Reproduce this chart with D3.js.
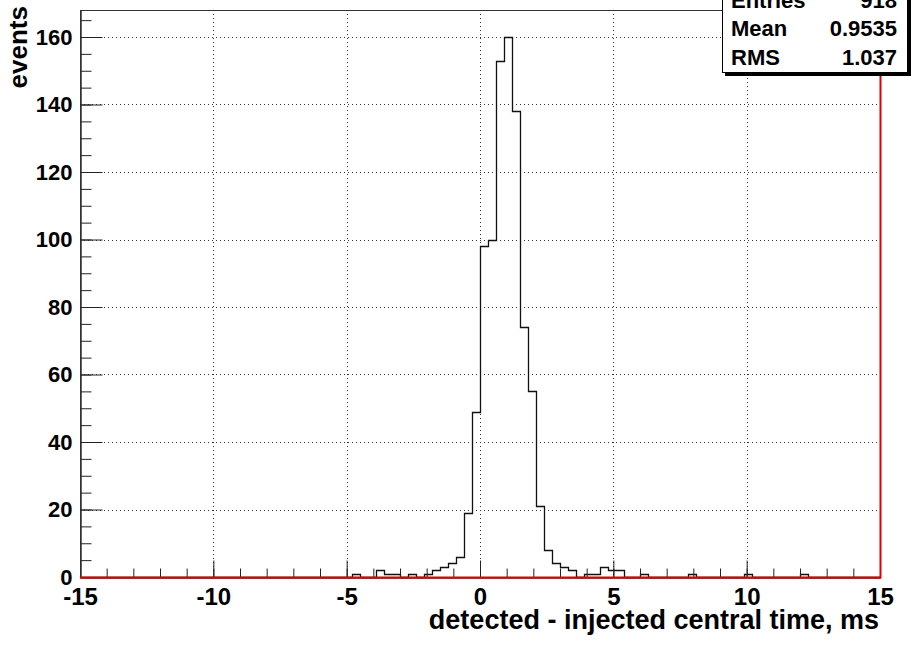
<!DOCTYPE html>
<html>
<head>
<meta charset="utf-8">
<script src="https://cdn.jsdelivr.net/npm/d3@7"></script>
<style>
  body { margin: 0; background: #fff; }
  svg { display: block; font-family: "Liberation Sans", Arial, sans-serif; font-weight: bold; }
</style>
</head>
<body>
<div id="chart"></div>
<script>
// histogram: 100 bins of 0.3 ms from -15 to 15
const binLow = -15;
const binWidth = 0.3;
const counts = [
  0, 0, 0, 0, 0, 0, 0, 0, 0, 0,
  0, 0, 0, 0, 0, 0, 0, 0, 0, 0,
  0, 0, 0, 0, 0, 0, 0, 0, 0, 0,
  0, 0, 0, 0, 1, 0, 0, 2, 1, 1,
  0, 1, 0, 1, 2, 3, 4, 6, 19, 49,
  98, 100, 153, 160, 138, 74, 55, 21, 8, 4,
  3, 2, 0, 1, 1, 3, 2, 2, 0, 0,
  1, 0, 0, 0, 0, 0, 1, 0, 0, 0,
  0, 0, 0, 1, 0, 0, 0, 0, 0, 0,
  1, 0, 0, 0, 0, 0, 0, 0, 0, 0
];
const xTicks = [-15, -10, -5, 0, 5, 10, 15];
const yTicks = [0, 20, 40, 60, 80, 100, 120, 140, 160];
const statNames = ["Entries", "Mean", "RMS"];
const statValues = ["918", "0.9535", "1.037"];

const width = 913, height = 645;
const fLeft = 80, fRight = 880, fTop = 10, fBottom = 577;

const svg = d3.select("#chart").append("svg")
  .attr("width", width)
  .attr("height", height);

const x = d3.scaleLinear().domain([-15, 15]).range([fLeft, fRight]);
const y = d3.scaleLinear().domain([0, 168]).range([fBottom, fTop]);

// grid (dotted)
const grid = svg.append("g").attr("stroke", "#333").attr("stroke-width", 1).attr("stroke-dasharray", "1,3");
grid.selectAll(".gx").data(xTicks.slice(1, -1)).enter().append("line")
  .attr("x1", d => Math.round(x(d)) + 0.5).attr("x2", d => Math.round(x(d)) + 0.5)
  .attr("y1", fTop).attr("y2", fBottom);
grid.selectAll(".gy").data(yTicks.slice(1)).enter().append("line")
  .attr("x1", fLeft).attr("x2", fRight)
  .attr("y1", d => Math.round(y(d)) + 0.5).attr("y2", d => Math.round(y(d)) + 0.5);

// frame
svg.append("rect")
  .attr("x", fLeft + 0.5).attr("y", fTop + 0.5)
  .attr("width", fRight - fLeft).attr("height", fBottom - fTop)
  .attr("fill", "none").attr("stroke", "#333");

// histogram outline
const pts = [[binLow, 0]];
counts.forEach((c, i) => {
  const lo = binLow + i * binWidth;
  pts.push([lo, c], [lo + binWidth, c]);
});
pts.push([binLow + counts.length * binWidth, 0]);
const line = d3.line().x(d => Math.round(x(d[0])) + 0.5).y(d => Math.round(y(d[1])) + 0.5);
svg.append("path")
  .attr("d", line(pts))
  .attr("fill", "none")
  .attr("stroke", "#111")
  .attr("stroke-width", 1.3);

// x axis: major + minor ticks pointing up (plain hyphen for negatives)
const xMajor = d3.axisBottom(x).tickValues(xTicks).tickSizeInner(-17).tickSizeOuter(0)
  .tickPadding(10).tickFormat(d => String(d));
const xMinor = d3.axisBottom(x).tickValues(d3.range(-15, 16, 1)).tickSizeInner(-9).tickSizeOuter(0).tickFormat("");
svg.append("g").attr("transform", `translate(0,${fBottom + 0.5})`).call(xMinor);
const gx = svg.append("g").attr("transform", `translate(0,${fBottom + 0.5})`).call(xMajor);
gx.selectAll("text").style("font-size", "24px").attr("fill", "#000");

// y axis: major + minor ticks pointing right
const yMajor = d3.axisLeft(y).tickValues(yTicks).tickSizeInner(-22).tickSizeOuter(0).tickPadding(8);
const yMinor = d3.axisLeft(y).tickValues(d3.range(0, 166, 5)).tickSizeInner(-11).tickSizeOuter(0).tickFormat("");
svg.append("g").attr("transform", `translate(${fLeft + 0.5},0)`).call(yMinor);
const gy = svg.append("g").attr("transform", `translate(${fLeft + 0.5},0)`).call(yMajor);
gy.selectAll("text").style("font-size", "22px").attr("fill", "#000");

svg.selectAll(".domain").attr("stroke", "#333");
svg.selectAll(".tick line").attr("stroke", "#222");
svg.selectAll("g").attr("font-family", null);

// red line along the bottom and right edges
svg.append("path")
  .attr("d", `M${fLeft},${fBottom + 0.5}H${fRight + 0.5}V${fTop}`)
  .attr("fill", "none")
  .attr("stroke", "#e00000")
  .attr("stroke-width", 2);

// axis titles
svg.append("text")
  .attr("x", fRight - 1).attr("y", 629)
  .attr("text-anchor", "end")
  .style("font-size", "27px")
  .text("detected - injected central time, ms");

svg.append("text")
  .attr("transform", "translate(27,6) rotate(-90)")
  .attr("text-anchor", "end")
  .style("font-size", "26px")
  .text("events");

// stats box
const box = svg.append("g");
box.append("rect")
  .attr("x", 725).attr("y", -20).attr("width", 186).attr("height", 96)
  .attr("fill", "#000");
box.append("rect")
  .attr("x", 722.5).attr("y", -22.5).attr("width", 185).attr("height", 95)
  .attr("fill", "#fff").attr("stroke", "#000");
statNames.forEach((n, i) => {
  box.append("text")
    .attr("x", 731).attr("y", 8 + i * 28.3)
    .style("font-size", "22px")
    .text(n);
  box.append("text")
    .attr("x", 897).attr("y", 8 + i * 28.3)
    .attr("text-anchor", "end")
    .style("font-size", "22px")
    .text(statValues[i]);
});
</script>
</body>
</html>
